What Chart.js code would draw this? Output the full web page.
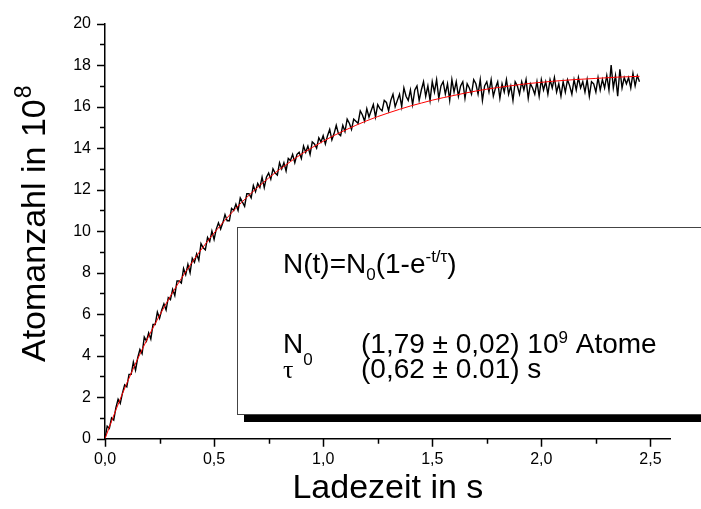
<!DOCTYPE html>
<html lang="de">
<head>
    <meta charset="UTF-8">
    <title>Ladekurve</title>
    <style type="text/css">
        body { margin: 0; background: #fff; overflow: hidden; }
        .chartBox { width: 701px; height: 509px; }
    </style>
</head>
<body>
    <div class="chartBox">
        <canvas id="myChart" width="701" height="509"></canvas>
    </div>

    <script src="https://cdn.jsdelivr.net/npm/chart.js"></script>
    <script>
        // measured atom number (10^8), one sample every 0.01 s starting at t = 0
        var sampleStep = 0.01;
        var atomCount = [
            0.0, 0.6, 0.5, 1.0, 0.9, 1.5, 1.9, 1.7, 2.2, 2.6,
            2.5, 3.1, 3.1, 3.7, 3.3, 3.9, 4.3, 4.1, 4.9, 4.7,
            5.1, 4.8, 5.5, 5.5, 6.1, 5.8, 6.2, 6.5, 6.2, 6.8,
            6.7, 7.2, 6.9, 7.6, 7.6, 7.5, 8.2, 7.9, 8.4, 8.0,
            8.7, 8.5, 8.9, 8.6, 9.4, 9.2, 9.1, 9.7, 9.5, 10.0,
            9.6, 10.1, 10.4, 10.1, 10.4, 10.8, 10.5, 10.5, 11.1, 11.0,
            11.3, 11.0, 11.6, 11.4, 11.2, 11.8, 11.8, 11.6, 12.2, 11.9,
            12.3, 12.1, 12.6, 12.1, 12.6, 12.8, 12.5, 13.0, 12.8, 12.7,
            13.3, 13.0, 13.3, 12.9, 13.5, 13.4, 13.7, 13.3, 13.7, 13.8,
            13.5, 14.1, 13.8, 14.1, 13.7, 14.3, 14.2, 14.0, 14.5, 14.3,
            14.6, 14.2, 14.6, 14.9, 14.4, 14.7, 15.1, 14.7, 14.6, 15.1,
            14.8, 15.4, 15.2, 14.9, 15.4, 15.3, 15.2, 15.8, 15.6, 15.3,
            15.9, 15.5, 15.8, 16.1, 15.5, 16.1, 15.9, 15.8, 16.3, 16.2,
            15.8, 16.3, 16.6, 16.0, 16.3, 16.6, 16.0, 16.9, 16.5, 16.3,
            16.8, 16.1, 16.8, 17.0, 16.3, 16.8, 17.2, 16.5, 17.0, 16.3,
            17.2, 16.7, 17.3, 16.4, 17.0, 17.2, 16.6, 17.1, 16.3, 17.3,
            16.7, 17.2, 16.5, 17.0, 17.2, 16.4, 17.1, 16.9, 16.6, 17.3,
            17.1, 16.6, 17.3, 16.3, 17.0, 17.2, 16.7, 17.3, 16.5, 16.9,
            17.2, 16.4, 17.1, 16.7, 17.3, 16.6, 17.0, 16.3, 17.2, 17.0,
            16.6, 17.2, 16.8, 17.3, 16.4, 17.1, 16.9, 16.6, 17.2, 16.5,
            17.3, 16.8, 17.2, 16.6, 17.3, 16.9, 17.4, 16.7, 17.1, 16.5,
            17.2, 16.7, 17.3, 17.0, 16.6, 17.3, 16.8, 17.4, 16.9, 17.2,
            16.7, 17.3, 16.5, 17.2, 17.1, 16.7, 17.4, 16.8, 17.3, 16.9,
            17.5, 16.8, 18.0, 16.9, 17.5, 16.5, 17.8, 16.9, 17.4, 17.1,
            17.4, 16.9, 17.6, 17.0, 17.5, 17.2
        ];

        // fit curve, one value every 0.05 s
        var fitStep = 0.05;
        var fitCount = [
            0, 1.39, 2.67, 3.85, 4.93, 5.94, 6.87, 7.72, 8.51, 9.24,
            9.91, 10.53, 11.10, 11.63, 12.11, 12.56, 12.97, 13.35, 13.71, 14.03,
            14.33, 14.61, 14.86, 15.10, 15.32, 15.52, 15.70, 15.87, 16.03, 16.17,
            16.31, 16.43, 16.54, 16.65, 16.75, 16.84, 16.92, 16.99, 17.06, 17.12,
            17.17, 17.22, 17.26, 17.30, 17.33, 17.36, 17.39, 17.42, 17.44, 17.46
        ];

        var xTicks = [0, 0.5, 1.0, 1.5, 2.0, 2.5];
        var xMinorTicks = [0.25, 0.75, 1.25, 1.75, 2.25];
        var yTicks = [0, 2, 4, 6, 8, 10, 12, 14, 16, 18, 20];
        var yMinorTicks = [1, 3, 5, 7, 9, 11, 13, 15, 17, 19];

        var family = '"Liberation Sans", Arial, sans-serif';

        var dataPoints = atomCount.map(function (v, i) { return { x: i * sampleStep, y: v }; });
        var fitPoints = fitCount.map(function (v, i) { return { x: i * fitStep, y: v }; });

        // tick marks, rotated y title and the fit result box
        var extras = {
            id: 'extras',
            afterDraw: function (chart) {
                var ctx = chart.ctx;
                var sx = chart.scales.x, sy = chart.scales.y;
                var area = chart.chartArea;
                ctx.save();
                ctx.strokeStyle = '#000';
                ctx.lineWidth = 1.5;
                ctx.beginPath();
                xTicks.concat(xMinorTicks).forEach(function (v) {
                    var len = xTicks.indexOf(v) >= 0 ? 8 : 5;
                    var px = Math.round(sx.getPixelForValue(v)) + 0.5;
                    ctx.moveTo(px, area.bottom);
                    ctx.lineTo(px, area.bottom + len);
                });
                yTicks.concat(yMinorTicks).forEach(function (v) {
                    var len = yTicks.indexOf(v) >= 0 ? 8 : 5;
                    var py = Math.round(sy.getPixelForValue(v)) + 0.5;
                    ctx.moveTo(area.left, py);
                    ctx.lineTo(area.left - len, py);
                });
                ctx.stroke();

                // y axis title with superscript
                ctx.fillStyle = '#000';
                ctx.translate(45, 362);
                ctx.rotate(-Math.PI / 2);
                ctx.font = '34px ' + family;
                ctx.textBaseline = 'alphabetic';
                var yTitle = 'Atomanzahl in 10';
                ctx.fillText(yTitle, 0, 0);
                var w = ctx.measureText(yTitle).width;
                ctx.font = '23px ' + family;
                ctx.fillText('8', w + 1, -14);
                ctx.restore();

                // fit box
                ctx.save();
                ctx.fillStyle = '#000';
                ctx.fillRect(244, 414.5, 470, 7.5);
                ctx.fillStyle = '#fff';
                ctx.fillRect(237.5, 227.5, 480, 187);
                ctx.strokeStyle = '#444';
                ctx.lineWidth = 1;
                ctx.strokeRect(237.5, 227.5, 480, 187);

                ctx.fillStyle = '#000';
                ctx.textBaseline = 'alphabetic';
                var big = '28px ' + family, small = '17px ' + family;
                function run(parts, x, y) {
                    parts.forEach(function (p) {
                        ctx.font = p[1];
                        ctx.fillText(p[0], x, y + p[2]);
                        x += ctx.measureText(p[0]).width;
                    });
                }
                run([['N(t)=N', big, 0], ['0', small, 7], ['(1-e', big, 0], ['-t/\u03c4', small, -11], [')', big, 0]], 283, 273);
                run([['N', big, 0], ['0', small, 12]], 283, 353);
                run([['(1,79 \u00b1 0,02) 10', big, 0], ['9', small, -10], [' Atome', big, 0]], 361, 353);
                run([['\u03c4', '26px "Liberation Serif", serif', 0]], 283, 378);
                run([['(0,62 \u00b1 0.01) s', big, 0]], 361, 378);
                ctx.restore();
            }
        };

        var myChart = new Chart(document.getElementById('myChart').getContext('2d'), {
            type: 'scatter',
            data: {
                datasets: [{
                    data: fitPoints,
                    showLine: true,
                    borderColor: '#ff0000',
                    borderWidth: 1,
                    pointRadius: 0,
                    cubicInterpolationMode: 'monotone'
                }, {
                    data: dataPoints,
                    showLine: true,
                    borderColor: '#000000',
                    borderWidth: 1.4,
                    pointRadius: 0
                }]
            },
            options: {
                responsive: false,
                animation: false,
                layout: {
                    padding: { top: 10.7, right: 30.3, left: 0, bottom: 0 }
                },
                scales: {
                    x: {
                        type: 'linear',
                        min: 0,
                        max: 2.593,
                        grid: { display: false, drawTicks: false },
                        border: { color: '#000', width: 1.5 },
                        afterBuildTicks: function (s) { s.ticks = xTicks.map(function (v) { return { value: v }; }); },
                        afterFit: function (s) { s.height = 70.3; },
                        ticks: {
                            padding: 11,
                            color: '#000',
                            font: { family: family, size: 16 },
                            callback: function (v) { return v.toFixed(1).replace('.', ','); }
                        },
                        title: {
                            display: true,
                            text: 'Ladezeit in s',
                            color: '#000',
                            font: { family: family, size: 34 },
                            padding: { top: 0, bottom: 0 }
                        }
                    },
                    y: {
                        min: 0,
                        max: 20,
                        grid: { display: false, drawTicks: false },
                        border: { color: '#000', width: 1.5 },
                        afterBuildTicks: function (s) { s.ticks = yTicks.map(function (v) { return { value: v }; }); },
                        afterFit: function (s) { s.width = 105; },
                        ticks: {
                            padding: 14,
                            color: '#000',
                            font: { family: family, size: 16 }
                        }
                    }
                },
                plugins: {
                    legend: { display: false },
                    tooltip: { enabled: false }
                }
            },
            plugins: [extras]
        });
    </script>
</body>
</html>
